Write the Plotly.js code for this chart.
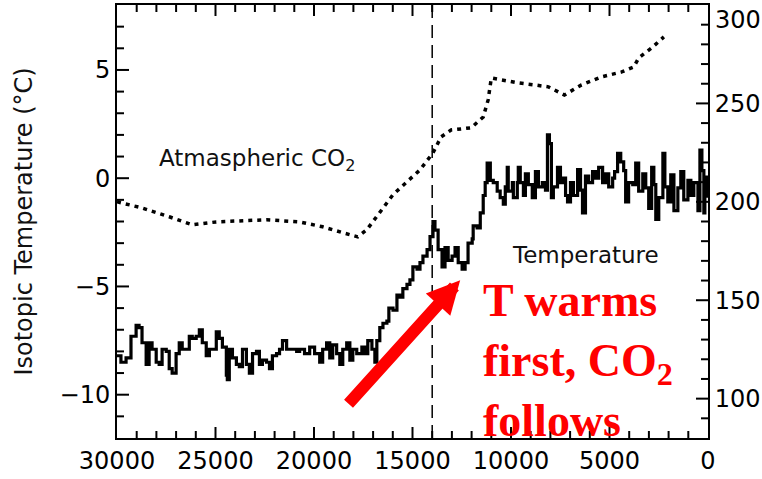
<!DOCTYPE html>
<html>
<head>
<meta charset="utf-8">
<script src="https://cdn.plot.ly/plotly-3.0.1.min.js"></script>
<style>html,body{margin:0;padding:0;background:#fff;}#chart{width:762px;height:479px;}</style>
</head>
<body>
<div id="chart"></div>
<script>
// Temperature record (years before present, isotopic temperature °C)
const tempAge = [30000,29800,29540,29290,29030,28880,28730,28520,28370,28220,28010,27860,27710,27500,27350,27200,27000,26840,26690,26490,26330,26180,25980,25820,25670,25470,25310,25160,24960,24810,24650,24450,24400,24300,24140,23940,23790,23630,23430,23280,23120,22920,22770,22620,22410,22260,22110,21900,21750,21600,21390,21140,20880,20730,20480,20220,19970,19710,19560,19360,19200,19050,18850,18690,18540,18340,18180,18030,17830,17570,17420,17270,17060,16910,16810,16660,16500,16300,16200,15990,15790,15640,15490,15280,15130,14980,14770,14620,14470,14260,14110,13960,13860,13700,13500,13350,13190,12990,12840,12680,12480,12330,12180,11970,11920,11720,11560,11410,11310,11210,11050,10900,10700,10550,10390,10290,10190,10140,9930,9880,9680,9630,9530,9370,9270,9120,8920,8760,8610,8410,8250,8150,8050,7950,7850,7640,7490,7340,7230,7130,6980,6830,6620,6470,6370,6220,6060,5860,5710,5550,5350,5200,5040,4840,4740,4590,4430,4280,4180,4030,3820,3670,3520,3310,3160,3010,2860,2750,2650,2500,2290,2190,2040,1890,1730,1530,1380,1230,1020,870,720,510,410,310,210,160,0];
const tempVal = [-8.2,-8.5,-8.3,-7.3,-6.8,-6.9,-7.6,-8.6,-7.6,-7.9,-8.5,-8.6,-7.9,-8.0,-8.8,-9.0,-8.1,-7.6,-7.9,-7.9,-7.3,-7.4,-7.3,-7.0,-7.6,-8.2,-7.9,-7.9,-7.1,-7.4,-7.8,-9.1,-9.3,-7.9,-8.3,-8.6,-8.7,-7.9,-8.6,-9.0,-8.1,-8.0,-8.6,-8.4,-8.5,-8.8,-8.2,-8.1,-7.9,-7.5,-7.9,-7.9,-8.0,-7.9,-8.1,-7.8,-8.1,-8.5,-7.9,-7.6,-8.3,-7.7,-8.1,-8.6,-7.9,-7.6,-8.4,-7.9,-8.1,-7.8,-8.1,-7.5,-7.9,-8.5,-7.5,-6.9,-6.7,-6.6,-6.0,-6.1,-5.4,-5.5,-5.1,-4.9,-4.7,-4.1,-4.2,-3.9,-3.6,-3.3,-2.7,-2.0,-2.4,-3.3,-4.1,-3.2,-3.8,-3.6,-3.2,-3.9,-4.2,-3.9,-3.0,-2.8,-2.2,-2.3,-1.6,-0.8,-0.2,0.7,-0.1,-0.2,-0.6,-0.9,-1.2,-0.4,0.5,-0.6,-0.2,-0.9,-0.2,0.5,-0.2,-0.8,0.2,-0.3,-0.9,0.3,-0.4,-0.2,-0.55,2.0,1.6,-0.9,-0.4,0.5,-0.2,0.0,-0.8,-1.1,-0.2,-0.8,0.4,-0.55,-1.6,0.1,-0.2,0.3,0.0,0.5,-0.2,0.2,-0.4,0.0,0.3,1.15,0.75,0.35,-1.1,-0.2,-0.3,0.7,-0.6,0.2,-0.45,-1.4,0.5,-0.3,-1.9,-0.9,1.15,-0.4,-1.1,0.15,-1.5,-0.45,0.3,-1.0,-0.1,-0.8,-0.2,-1.5,1.3,0.35,-1.6,0.05,-0.9];

// Atmospheric CO2 record (years before present, ppmv)
const co2Age = [30000,28730,27350,26180,24960,22410,20730,19560,18540,17780,17320,16660,15990,15280,14620,13960,13550,13040,12020,11410,11160,11000,10490,9630,8810,8100,7290,6420,5400,4380,3770,3520,2860,2240];
const co2Val = [200.0,196.9,192.4,188.3,189.8,190.9,189.8,187.3,184.3,182.2,185.8,194.9,203.6,210.2,216.2,224.9,233.0,236.5,237.6,243.1,251.8,262.9,261.9,260.4,259.4,258.4,254.3,259.4,263.5,266.0,268.5,273.1,278.2,283.8];

// Axis ticks
const xTickVals = [30000,25000,20000,15000,10000,5000,0];
const xTickText = ['30000','25000','20000','15000','10000','5000','0'];
const yTickVals = [-10,-5,0,5];
const yTickText = ['\u221210','\u22125','0','5'];
const y2TickVals = [100,150,200,250,300];
const y2TickText = ['100','150','200','250','300'];

// Axis ranges and minor tick steps
const xRange = [30000, 0];
const yRange = [-12, 8];
const y2Range = [80, 300];
const xMinorStep = 1000, yMinorStep = 1, y2MinorStep = 10;

// Marked event (years before present)
const markerAge = 14000;

const W = 762, H = 479, M = {l:117, r:54, t:5, b:41};
const plotW = W - M.l - M.r, plotH = H - M.t - M.b;

const tickFont = {family:'DejaVu Sans', size:24, color:'#000'};
const textFont = {family:'DejaVu Sans', size:23, color:'#111'};

const traces = [
  {x: tempAge, y: tempVal, type:'scatter', mode:'lines', xaxis:'x', yaxis:'y',
   line:{color:'#000', width:3.2, shape:'hv'}, hoverinfo:'skip'},
  {x: co2Age, y: co2Val, type:'scatter', mode:'lines', xaxis:'x', yaxis:'y2',
   line:{color:'#000', width:3.5, dash:'4px,5px'}, hoverinfo:'skip'}
];

function labelAxis(extra) {
  return Object.assign({
    ticks:'', showline:true, linewidth:2, linecolor:'#000',
    showgrid:false, zeroline:false, tickfont:tickFont, tickmode:'array', fixedrange:true
  }, extra);
}

// Inward tick marks (IDL style) placed at the tick values through the axes
const tickLine = {color:'#000', width:2};
const tickShapes = [];
function minorVals(range, step, majors) {
  const lo = Math.min(range[0], range[1]), hi = Math.max(range[0], range[1]);
  const out = [];
  for (let v = Math.ceil(lo / step) * step; v <= hi + 1e-9; v += step) {
    const r = Math.round(v * 1000) / 1000;
    if (r > lo && r < hi && majors.indexOf(r) < 0) out.push(r);
  }
  return out;
}
function addX(v, len) {
  const f = len / plotH;
  tickShapes.push({type:'line', xref:'x', yref:'paper', x0:v, x1:v, y0:0, y1:f, line:tickLine});
  tickShapes.push({type:'line', xref:'x', yref:'paper', x0:v, x1:v, y0:1, y1:1 - f, line:tickLine});
}
function addY(axisRef, side, v, len) {
  const f = len / plotW;
  const x0 = side === 'left' ? 0 : 1, x1 = side === 'left' ? f : 1 - f;
  tickShapes.push({type:'line', xref:'paper', yref:axisRef, x0:x0, x1:x1, y0:v, y1:v, line:tickLine});
}
xTickVals.forEach(v => { if (v !== xRange[0] && v !== xRange[1]) addX(v, 11); });
minorVals(xRange, xMinorStep, xTickVals).forEach(v => addX(v, 7));
yTickVals.forEach(v => addY('y', 'left', v, 12));
minorVals(yRange, yMinorStep, yTickVals).forEach(v => addY('y', 'left', v, 7));
y2TickVals.forEach(v => { if (v !== y2Range[1]) addY('y2', 'right', v, 12); });
minorVals(y2Range, y2MinorStep, y2TickVals).forEach(v => addY('y2', 'right', v, 7));

const layout = {
  width:W, height:H,
  margin:{l:M.l, r:M.r, t:M.t, b:M.b, pad:0},
  paper_bgcolor:'#fff', plot_bgcolor:'#fff',
  showlegend:false,
  xaxis: labelAxis({range:xRange, tickvals:xTickVals, ticktext:xTickText, mirror:true}),
  yaxis: labelAxis({range:yRange, tickvals:yTickVals, ticktext:yTickText, mirror:false,
    title:{text:'Isotopic Temperature (\u00B0C)', font:{family:'DejaVu Sans', size:24, color:'#111'}, standoff:20}}),
  yaxis2: labelAxis({range:y2Range, tickvals:y2TickVals, ticktext:['100','150','200','250',''],
    overlaying:'y', side:'right'}),
  shapes: tickShapes.concat([
    {type:'line', xref:'x', yref:'paper', x0:markerAge, x1:markerAge, y0:0, y1:1,
     line:{color:'#000', width:1.5, dash:'13px,7px'}}
  ]),
  annotations:[
    {xref:'paper', yref:'y2', x:1, y:y2TickVals[4], text:y2TickText[4], showarrow:false,
     font:tickFont, xanchor:'left', yanchor:'top', xshift:5, yshift:1},
    {xref:'x', yref:'y', x:22900, y:0.85, text:'Atmaspheric CO<sub>2</sub>', showarrow:false,
     font:textFont, xanchor:'center', yanchor:'middle'},
    {xref:'x', yref:'y', x:6220, y:-3.56, text:'Temperature', showarrow:false,
     font:textFont, xanchor:'center', yanchor:'middle'},
    {xref:'x', yref:'y', x:11520, y:-8.4, text:'T warms<br>first, CO<sub>2</sub><br>follows', showarrow:false,
     font:{family:'Liberation Serif', size:46, color:'#ff0000', weight:'bold'}, align:'left',
     xanchor:'left', yanchor:'middle'},
    {xref:'x', yref:'y', x:12580, y:-4.71, text:'', showarrow:true,
     ax:-113, ay:125, arrowhead:2, arrowsize:0.55, arrowwidth:12, arrowcolor:'#ff0000', standoff:0}
  ]
};

Plotly.newPlot('chart', traces, layout, {displayModeBar:false});
</script>
</body>
</html>
